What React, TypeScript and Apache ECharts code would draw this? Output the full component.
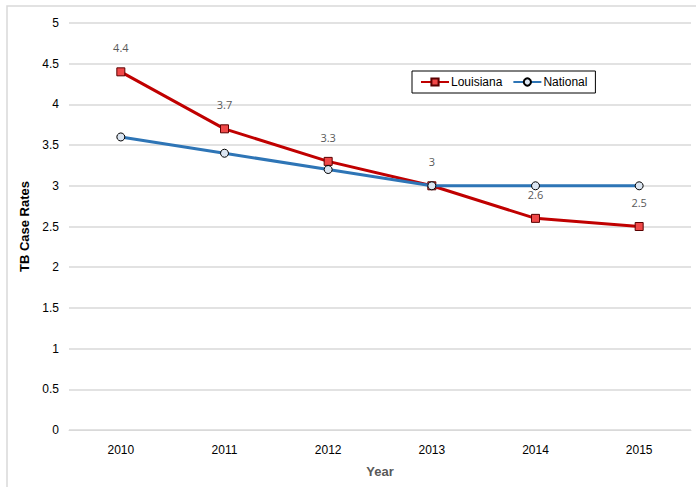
import React, { useEffect, useRef } from "react";
import * as echarts from "echarts";

const years = ["2010", "2011", "2012", "2013", "2014", "2015"];
const louisiana = [4.4, 3.7, 3.3, 3.0, 2.6, 2.5];
const national = [3.6, 3.4, 3.2, 3.0, 3.0, 3.0];

const FONT = "'Liberation Sans Narrow', 'Liberation Sans', Arial, sans-serif";

export default function App() {
  const ref = useRef<HTMLDivElement>(null);
  useEffect(() => {
    const chart = echarts.init(ref.current!, null, { renderer: "svg" });
    chart.setOption({
      animation: false,
      backgroundColor: "#ffffff",
      textStyle: { fontFamily: FONT },
      graphic: [
        {
          type: "rect",
          shape: { x: 7, y: 6, width: 700, height: 500 },
          style: { fill: "none", stroke: "#d9d9d9", lineWidth: 1.5 },
          silent: true,
        },
      ],
      grid: { left: 69, right: 5, top: 23, bottom: 57, containLabel: false },
      legend: {
        left: 412,
        top: 71,
        padding: [5, 8, 5, 8],
        borderColor: "#000",
        borderWidth: 1,
        backgroundColor: "#fff",
        itemGap: 10,
        itemWidth: 28,
        itemHeight: 9,
        textStyle: { fontFamily: FONT, fontSize: 12, color: "#000", padding: [0, 0, 0, -3] },
        data: ["Louisiana", "National"],
      },
      xAxis: {
        type: "category",
        data: years,
        name: "Year",
        nameLocation: "middle",
        nameGap: 35,
        nameTextStyle: { fontFamily: FONT, fontSize: 13, fontWeight: "bold", color: "#595959" },
        axisLine: { lineStyle: { color: "#d9d9d9", width: 1 } },
        axisTick: { show: false },
        axisLabel: { fontFamily: FONT, fontSize: 12, color: "#000", margin: 14 },
      },
      yAxis: {
        type: "value",
        min: 0,
        max: 5,
        interval: 0.5,
        name: "TB Case Rates",
        nameLocation: "middle",
        nameGap: 33,
        nameTextStyle: { fontFamily: FONT, fontSize: 13, fontWeight: "bold", color: "#000" },
        axisLine: { show: false },
        axisTick: { show: false },
        splitLine: { lineStyle: { color: "#d9d9d9", width: 1.5 } },
        axisLabel: { fontFamily: FONT, fontSize: 12, color: "#000", margin: 10 },
      },
      series: [
        {
          name: "National",
          type: "line",
          data: national,
          symbol: "circle",
          symbolSize: 8,
          lineStyle: { color: "#2e75b6", width: 3 },
          itemStyle: { color: "#dce6f2", borderColor: "#000", borderWidth: 1 },
          z: 2,
        },
        {
          name: "Louisiana",
          type: "line",
          data: louisiana,
          symbol: "rect",
          symbolSize: 8,
          lineStyle: { color: "#c00000", width: 3 },
          itemStyle: { color: "#f04848", borderColor: "#5a0000", borderWidth: 1 },
          label: {
            show: true,
            position: "top",
            distance: 14,
            fontFamily: "'Open Sans', sans-serif",
            fontSize: 11,
            color: "#595959",
          },
          z: 1,
        },
      ],
    });
    return () => chart.dispose();
  }, []);
  return <div ref={ref} style={{ width: 696, height: 487, position: "absolute", left: 0, top: 0 }} />;
}
